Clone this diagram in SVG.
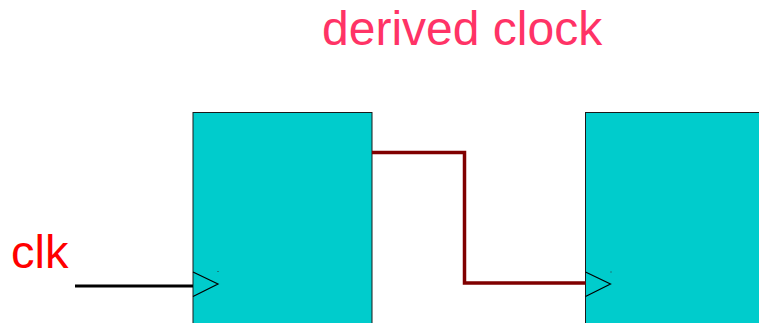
<svg xmlns="http://www.w3.org/2000/svg" width="759" height="323" viewBox="0 0 759 323">
<style>
.ff{fill:#00cccc;stroke:#1a1a1a;stroke-width:1}
.clkin{fill:none;stroke:#000;stroke-width:1.2}
text{font-family:"Liberation Sans",Arial,sans-serif}
</style>
<rect width="759" height="323" fill="#fff"/>
<g id="ff1">
<rect class="ff" x="193" y="112.5" width="179" height="220"/>
<polyline class="clkin" points="193,272 218,284 193,296.5"/>
<rect x="217.5" y="271" width="1" height="1" fill="#333"/>
</g>
<g id="ff2">
<rect class="ff" x="585.5" y="112.5" width="190" height="220"/>
<polyline class="clkin" points="585.5,272 610.5,284 585.5,296.5"/>
<rect x="610.5" y="271.5" width="1" height="1" fill="#333"/>
</g>
<g id="connectors">
<line x1="75" y1="286" x2="193" y2="286" stroke="#000" stroke-width="3"/>
<polyline points="372,152.5 464.5,152.5 464.5,283 585.5,283" fill="none" stroke="#800000" stroke-width="3.5"/>
</g>
<text x="11" y="268" font-size="47" fill="#ff0000">clk</text>
<text x="322" y="45" font-size="48" fill="#ff3366">derived clock</text>
</svg>
